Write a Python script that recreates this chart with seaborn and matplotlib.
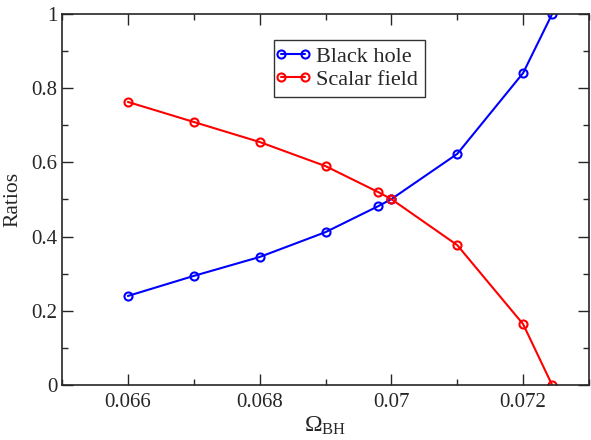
import matplotlib
matplotlib.use("Agg")
import matplotlib.pyplot as plt
import seaborn as sns
import pandas as pd
from matplotlib.ticker import MultipleLocator
from matplotlib.legend_handler import HandlerLine2D

omega = [0.066, 0.067, 0.068, 0.069, 0.0698, 0.070, 0.071, 0.072, 0.07244]
black_hole = [0.240, 0.294, 0.345, 0.412, 0.482, 0.501, 0.623, 0.841, 1.0]
scalar_field = [0.763, 0.709, 0.655, 0.590, 0.520, 0.501, 0.377, 0.164, 0.0]
series_names = ["Black hole", "Scalar field"]
colors = ["#0000ff", "#ff0000"]

df = pd.concat([
    pd.DataFrame({"Omega": omega, "Ratio": black_hole, "Series": series_names[0]}),
    pd.DataFrame({"Omega": omega, "Ratio": scalar_field, "Series": series_names[1]}),
])

sns.set_style("ticks")
serif = "Liberation Serif"
plt.rcParams["font.family"] = "serif"
plt.rcParams["font.serif"] = [serif, "DejaVu Serif"]
plt.rcParams["mathtext.fontset"] = "custom"
plt.rcParams["mathtext.rm"] = serif
plt.rcParams["mathtext.it"] = serif + ":italic"

fig = plt.figure(figsize=(5.91, 4.40), dpi=100)
ax = fig.add_axes([62/591, 1-385/440, (589-62)/591, (385-14)/440])

ms, mew, lw = 5.8, 1.5, 1.5
sns.lineplot(data=df, x="Omega", y="Ratio", hue="Series", palette=colors,
             marker="o", markersize=ms, markerfacecolor="none", markeredgewidth=mew,
             linewidth=lw, ax=ax, legend=False, sort=False, estimator=None)
for line, c in zip(ax.get_lines(), colors):
    line.set_markeredgecolor(c)
    line.set_markerfacecolor("none")

ax.set_xlim(0.065, 0.073)
ax.set_ylim(0, 1)
ax.xaxis.set_minor_locator(MultipleLocator(0.001))
ax.yaxis.set_minor_locator(MultipleLocator(0.1))
ax.set_xticks([0.066, 0.068, 0.070, 0.072])
ax.set_xticklabels(["0.066", "0.068", "0.07", "0.072"])
ax.set_yticks([0, 0.2, 0.4, 0.6, 0.8, 1.0])
ax.set_yticklabels(["0", "0.2", "0.4", "0.6", "0.8", "1"])
ax.tick_params(which="both", direction="in", top=True, right=True, labelsize=15, width=1)
ax.tick_params(which="major", length=8)
ax.tick_params(which="minor", length=4)
ax.tick_params(axis="x", pad=6)
for s in ax.spines.values():
    s.set_linewidth(1.2)

ax.set_xlabel(r"$\Omega_{\mathrm{BH}}$", fontsize=17, labelpad=2)
ax.set_ylabel("Ratios", fontsize=15.5, labelpad=6)

handles = [plt.Line2D([], [], color=c, marker="o", markersize=ms, markerfacecolor="none",
                      markeredgewidth=mew, linewidth=lw) for c in colors]
leg = ax.legend(handles, series_names, loc="upper left", bbox_to_anchor=((274-62)/527, 1-(40-14)/371),
                numpoints=2, fontsize=16, frameon=True, fancybox=False, handlelength=1.1,
                handletextpad=0.5, borderpad=0.3, labelspacing=0.1, borderaxespad=0,
                handler_map={plt.Line2D: HandlerLine2D(marker_pad=0.0, numpoints=2)})
leg.get_frame().set_edgecolor("black")
leg.get_frame().set_linewidth(1.0)

fig.savefig("out.png", dpi=100)
